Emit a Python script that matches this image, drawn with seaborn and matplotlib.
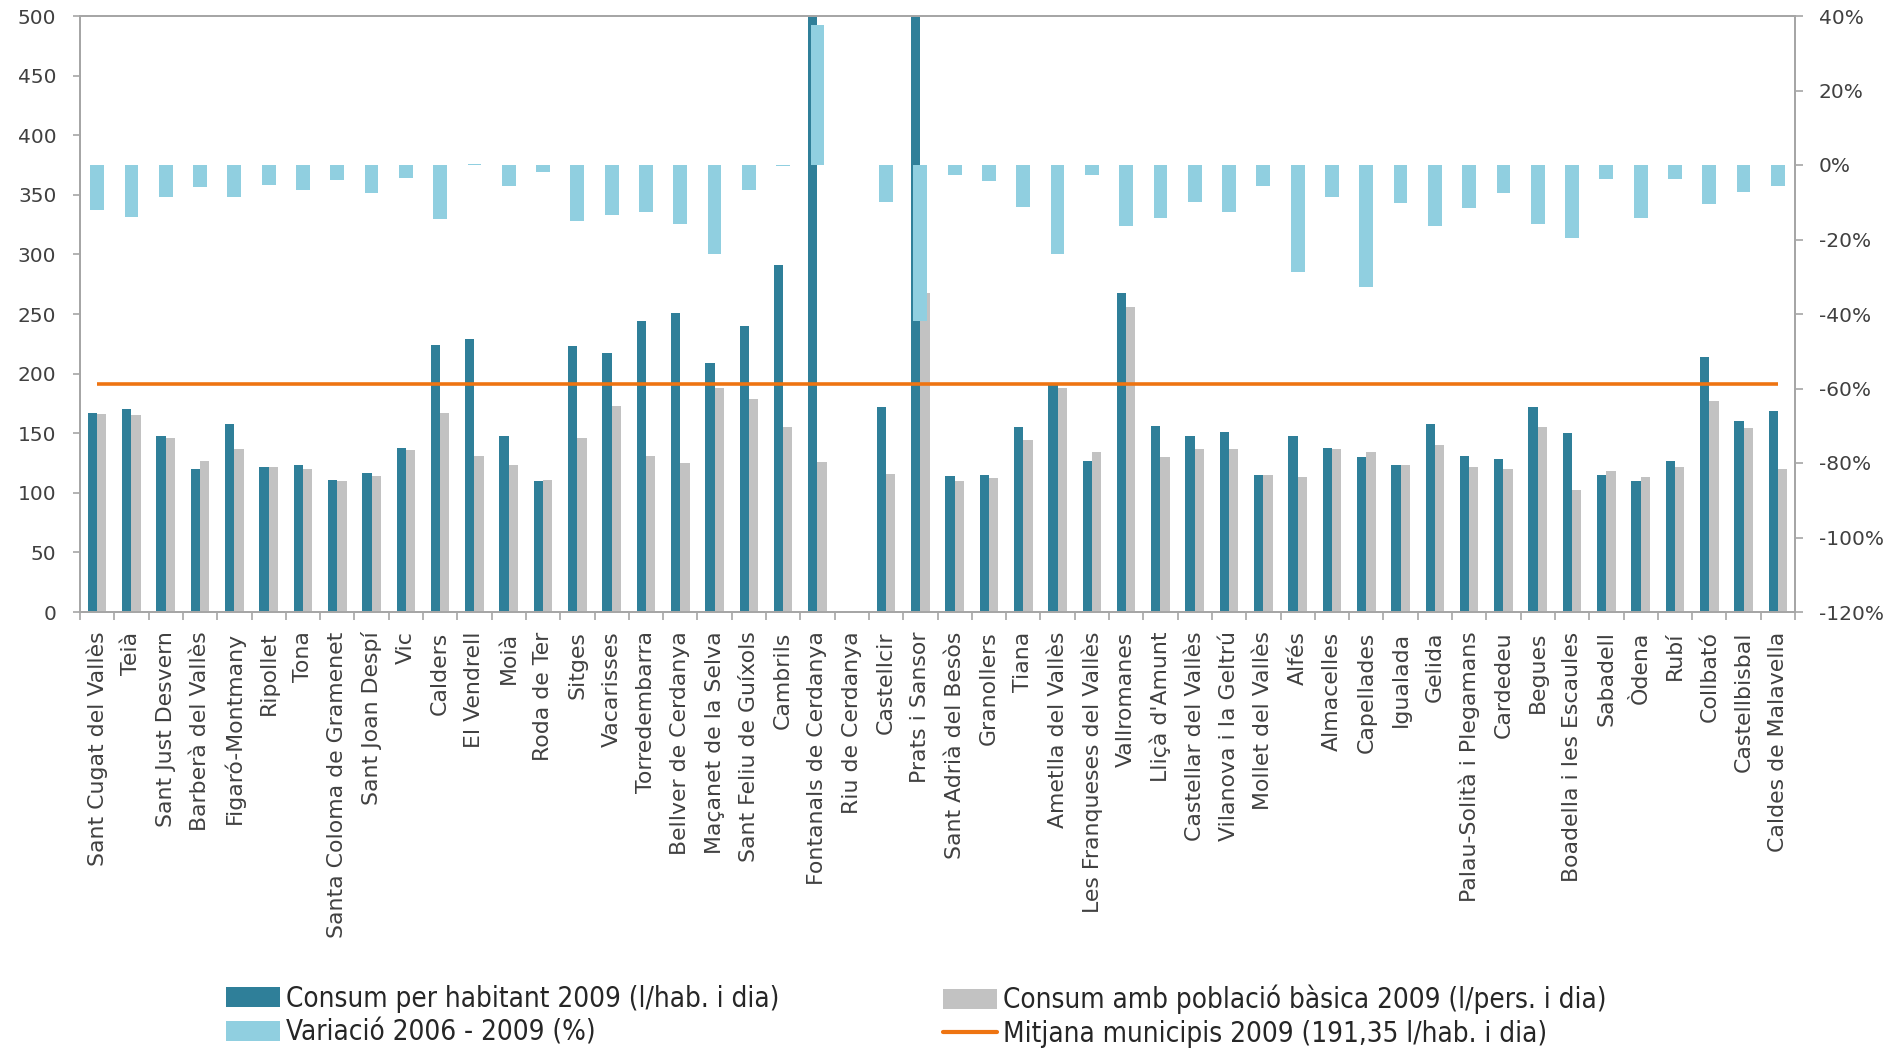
import numpy as np
import pandas as pd
import matplotlib
matplotlib.use("Agg")
import matplotlib.pyplot as plt
from matplotlib import font_manager as fm
from matplotlib.patches import Patch
from matplotlib.lines import Line2D
from matplotlib.ticker import FuncFormatter, FixedLocator
import seaborn as sns

# --- data -------------------------------------------------------------
municipis = [
    "Sant Cugat del Vallès", "Teià", "Sant Just Desvern", "Barberà del Vallès",
    "Figaró-Montmany", "Ripollet", "Tona", "Santa Coloma de Gramenet",
    "Sant Joan Despí", "Vic", "Calders", "El Vendrell", "Moià", "Roda de Ter",
    "Sitges", "Vacarisses", "Torredembarra", "Bellver de Cerdanya",
    "Maçanet de la Selva", "Sant Feliu de Guíxols", "Cambrils",
    "Fontanals de Cerdanya", "Riu de Cerdanya", "Castellcir", "Prats i Sansor",
    "Sant Adrià del Besòs", "Granollers", "Tiana", "Ametlla del Vallès",
    "Les Franqueses del Vallès", "Vallromanes", "Lliçà d'Amunt",
    "Castellar del Vallès", "Vilanova i la Geltrú", "Mollet del Vallès",
    "Alfés", "Almacelles", "Capellades", "Igualada", "Gelida",
    "Palau-Solità i Plegamans", "Cardedeu", "Begues", "Boadella i les Escaules",
    "Sabadell", "Òdena", "Rubí", "Collbató", "Castellbisbal",
    "Caldes de Malavella",
]

consum_habitant = [
    167, 170, 148, 120, 158, 122, 123, 111, 117, 138,
    224, 229, 148, 110, 223, 217, 244, 251, 209, 240,
    291, 620, np.nan, 172, 560, 114, 115, 155, 192, 127,
    268, 156, 148, 151, 115, 148, 138, 130, 123, 158,
    131, 128, 172, 150, 115, 110, 127, 214, 160, 169,
]

consum_basica = [
    166, 165, 146, 127, 137, 122, 120, 110, 114, 136,
    167, 131, 123, 111, 146, 173, 131, 125, 188, 179,
    155, 126, np.nan, 116, 268, 110, 112, 144, 188, 134,
    256, 130, 137, 137, 115, 113, 137, 134, 123, 140,
    122, 120, 155, 102, 118, 113, 122, 177, 154, 120,
]

variacio = [
    -12.0, -13.9, -8.5, -5.8, -8.5, -5.3, -6.8, -4.0, -7.5, -3.6,
    -14.5, 0.4, -5.7, -1.8, -15.1, -13.4, -12.6, -15.9, -23.9, -6.8,
    -0.4, 37.6, np.nan, -9.9, -41.9, -2.7, -4.4, -11.3, -23.9, -2.7,
    -16.4, -14.2, -9.9, -12.6, -5.7, -28.8, -8.5, -32.7, -10.2, -16.4,
    -11.5, -7.5, -15.9, -19.5, -3.8, -14.2, -3.8, -10.4, -7.3, -5.7,
]

mitjana = 191.35

serie_hab = "Consum per habitant 2009 (l/hab. i dia)"
serie_bas = "Consum amb població bàsica 2009 (l/pers. i dia)"
serie_var = "Variació 2006 - 2009 (%)"
serie_mit = "Mitjana municipis 2009 (191,35 l/hab. i dia)"

# --- styling ------------------------------------------------------------
c_teal = "#2f7f99"
c_gray = "#c2c2c2"
c_light = "#90cfe0"
c_orange = "#ee7412"
c_axis = "#a6a6a6"
c_text = "#404040"

sns.set_style("white")
plt.rcParams["font.family"] = ["DejaVu Sans"]


def narrow_font():
    """Pick a condensed sans face for the legend if one is installed."""
    cands = [f for f in fm.fontManager.ttflist
             if ("Narrow" in f.fname or "Condensed" in f.fname)
             and f.weight in (400, "normal", "regular")
             and f.style == "normal"]
    cands.sort(key=lambda f: (0 if "Sans" in f.fname else 1, f.fname))
    if cands:
        return fm.FontProperties(fname=cands[0].fname, size=20)
    return fm.FontProperties(family=["Roboto", "DejaVu Sans"], size=18.6)


fig = plt.figure(figsize=(18.89, 10.5), dpi=100)
ax = fig.add_axes([80 / 1889, 1 - 612 / 1050, (1795 - 80) / 1889, (612 - 16) / 1050])

long_df = pd.DataFrame({
    "Municipi": municipis * 2,
    "valor": list(consum_habitant) + list(consum_basica),
    "serie": [serie_hab] * len(municipis) + [serie_bas] * len(municipis),
}).dropna()

sns.barplot(
    data=long_df, x="Municipi", y="valor", hue="serie",
    order=municipis, hue_order=[serie_hab, serie_bas],
    palette=[c_teal, c_gray], width=0.54, dodge=True, saturation=1,
    errorbar=None, legend=False, ax=ax, linewidth=0,
)

n = len(municipis)
pos = np.arange(n)
ax.plot(pos, np.full(n, mitjana), color=c_orange, lw=2.6, zorder=5,
        solid_capstyle="butt")

ax.set_xlim(-0.5, n - 0.5)
ax.set_ylim(0, 500)
ax.set_yticks(np.arange(0, 501, 50))
ax.set_xlabel("")
ax.set_ylabel("")

# secondary axis: percentage change
ax2 = ax.twinx()
var_df = pd.DataFrame({"Municipi": municipis, "variacio": variacio}).dropna()
sns.barplot(
    data=var_df, x="Municipi", y="variacio", order=municipis,
    color=c_light, width=0.4, saturation=1, errorbar=None, ax=ax2, linewidth=0,
)
ax2.set_ylim(-120, 40)
ax2.set_yticks(np.arange(-120, 41, 20))
ax2.yaxis.set_major_formatter(FuncFormatter(lambda v, p: f"{int(round(v))}%"))
ax2.set_xlabel("")
ax2.set_ylabel("")
ax2.set_xlim(-0.5, n - 0.5)

# axes frame and ticks
for a in (ax, ax2):
    for s in a.spines.values():
        s.set_visible(True)
        s.set_color(c_axis)
        s.set_linewidth(1.3)

ax.xaxis.set_major_locator(FixedLocator(pos))
ax.set_xticklabels(municipis, rotation=90, fontsize=15.8, color=c_text)
ax.xaxis.set_minor_locator(FixedLocator(np.arange(-0.5, n, 1.0)))
ax.tick_params(axis="x", which="major", length=0, pad=14)
ax.tick_params(axis="x", which="minor", length=6, width=1.2, color=c_axis,
               direction="out", bottom=True)
ax.tick_params(axis="y", which="major", length=5, width=1.2, color=c_axis,
               direction="out", pad=12, labelsize=14.5, labelcolor=c_text)
ax2.tick_params(axis="y", which="major", length=6, width=1.2, color=c_axis,
                direction="out", pad=11, labelsize=14.5, labelcolor=c_text)
ax2.tick_params(axis="x", which="both", bottom=False, top=False,
                labelbottom=False)

# legend in two blocks below the chart
leg_font = narrow_font()
h_hab = Patch(facecolor=c_teal, edgecolor="none")
h_var = Patch(facecolor=c_light, edgecolor="none")
h_bas = Patch(facecolor=c_gray, edgecolor="none")
h_mit = Line2D([0], [0], color=c_orange, lw=3)

leg_kw = dict(prop=leg_font, loc="upper left", frameon=False,
              handlelength=1.95, handleheight=0.75, handletextpad=0.2,
              labelspacing=0.2, borderpad=0, borderaxespad=0)
leg1 = fig.legend([h_hab, h_var], [serie_hab, serie_var],
                  bbox_to_anchor=(226 / 1889, 1 - 985 / 1050), **leg_kw)
leg2 = fig.legend([h_bas, h_mit], [serie_bas, serie_mit],
                  bbox_to_anchor=(943 / 1889, 1 - 985 / 1050), **leg_kw)
for lg in (leg1, leg2):
    for t in lg.get_texts():
        t.set_color("#262626")

fig.savefig("out.png", dpi=100, facecolor="white")
